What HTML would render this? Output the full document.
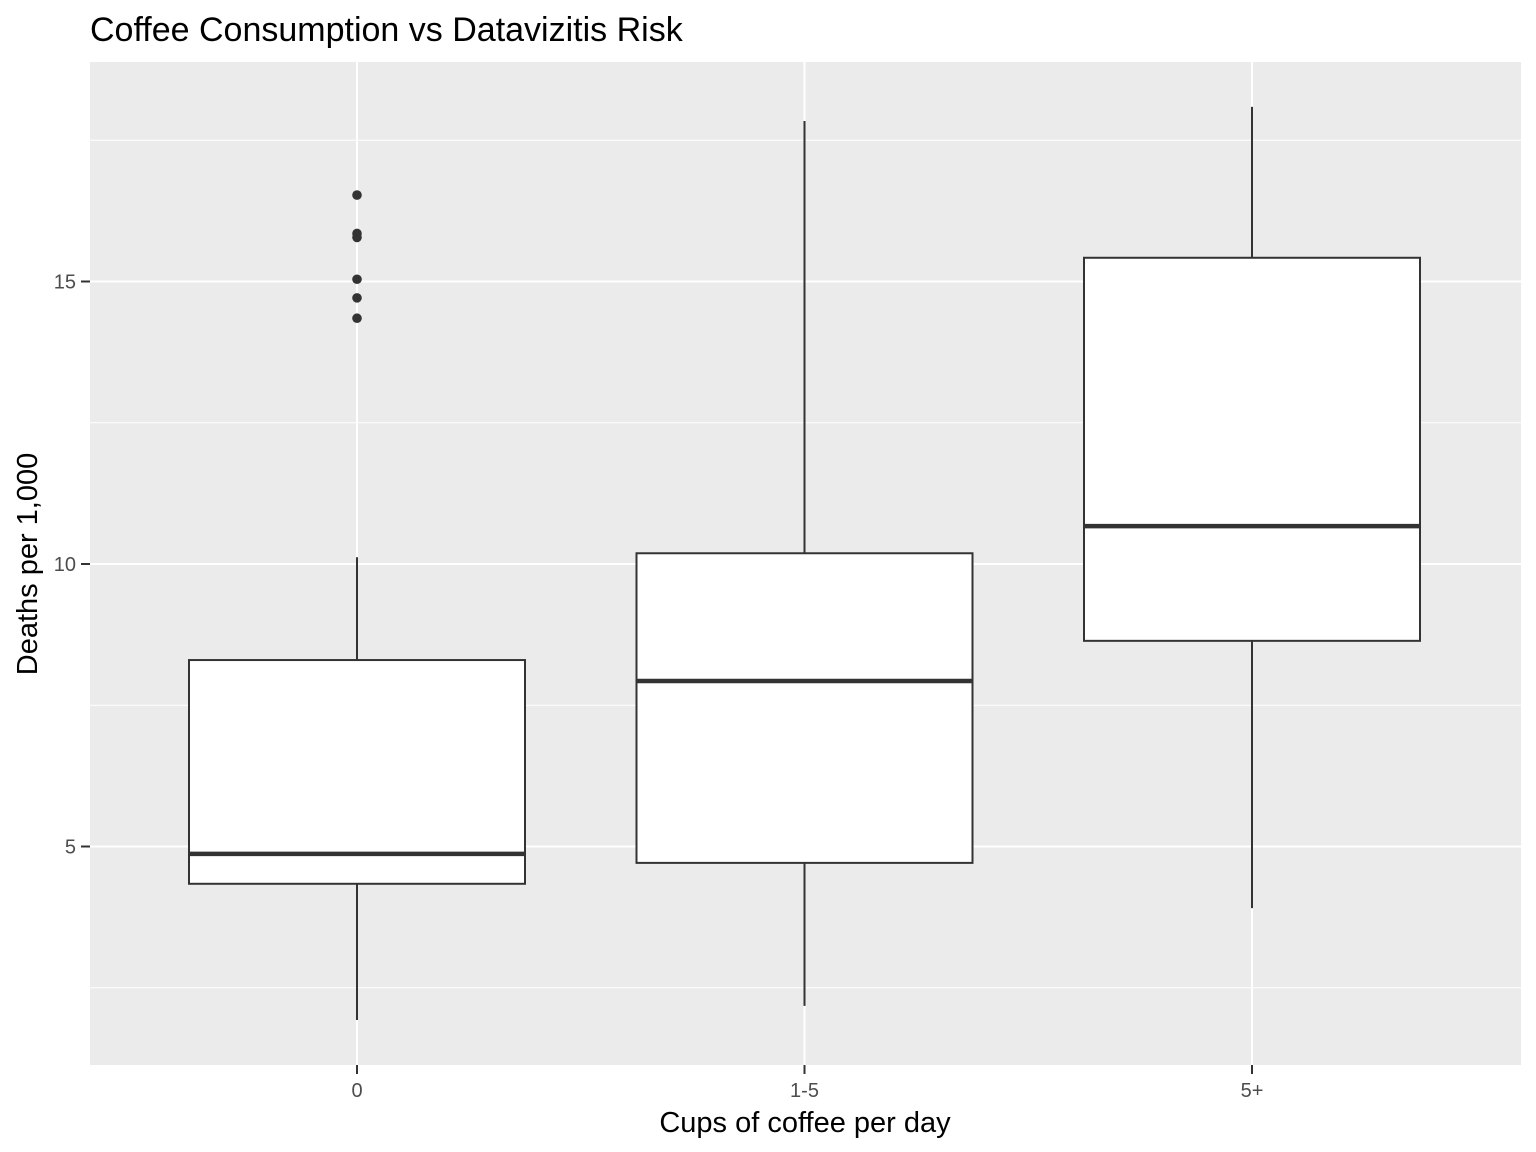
<!DOCTYPE html>
<html><head><meta charset="utf-8"><style>
body{margin:0;background:#fff;}
svg{display:block;font-family:"Liberation Sans",Arial,sans-serif;}
</style></head><body>
<svg id="chart" width="1536" height="1152">
<text x="90" y="41" font-size="34" fill="#000">Coffee Consumption vs Datavizitis Risk</text>
<rect x="90" y="62" width="1431" height="1003" fill="#ebebeb"/>
<g id="grid"></g>
<g id="marks"></g>
<g id="axes"></g>
<text x="805" y="1132" font-size="29" text-anchor="middle" fill="#000">Cups of coffee per day</text>
<text transform="translate(37,564) rotate(-90)" font-size="29" text-anchor="middle" fill="#000">Deaths per 1,000</text>
</svg>
<script>
const categories = ["0", "1-5", "5+"];
const whiskerLow = [1.93, 2.18, 3.91];
const q1 = [4.34, 4.71, 8.64];
const median = [4.87, 7.93, 10.67];
const q3 = [8.30, 10.19, 15.42];
const whiskerHigh = [10.12, 17.84, 18.09];
const outliers0 = [16.53, 15.85, 15.78, 15.04, 14.71, 14.35];
const yTicks = [5, 10, 15];
const yMinor = [2.5, 7.5, 12.5, 17.5];

const NS = "http://www.w3.org/2000/svg";
const yScale = v => 564 - (v - 10) * 56.5;
const xScale = i => 357 + i * 447.5;
const halfW = 168;
function mk(tag, attrs, parent) {
  const e = document.createElementNS(NS, tag);
  for (const k in attrs) e.setAttribute(k, attrs[k]);
  parent.appendChild(e);
  return e;
}
const grid = document.getElementById("grid"), marks = document.getElementById("marks"), axes = document.getElementById("axes");
yMinor.forEach(v => {
  const l = mk("line", {x1: 90, x2: 1521, y1: yScale(v), y2: yScale(v), stroke: "#fff", "stroke-width": 1}, grid);
  
  
});
yTicks.forEach(v => {
  const l = mk("line", {x1: 90, x2: 1521, y1: yScale(v), y2: yScale(v), stroke: "#fff", "stroke-width": 2}, grid);
  
  
  const t = mk("line", {x1: 81, x2: 90, y1: yScale(v), y2: yScale(v), stroke: "#333", "stroke-width": 2}, axes);
  
  
  const tx = mk("text", {x: 76, y: yScale(v) + 7, "font-size": 20, "text-anchor": "end", fill: "#4d4d4d"}, axes);
  tx.textContent = v;
  
  
});
categories.forEach((c, i) => {
  const x = xScale(i);
  const g = mk("line", {x1: x, x2: x, y1: 62, y2: 1065, stroke: "#fff", "stroke-width": 2}, grid);
  
  
  const t = mk("line", {x1: x, x2: x, y1: 1065, y2: 1074, stroke: "#333", "stroke-width": 2}, axes);
  
  
  const tx = mk("text", {x: x, y: 1097, "font-size": 20, "text-anchor": "middle", fill: "#4d4d4d"}, axes);
  tx.textContent = c;
  
  
  const w1 = mk("line", {x1: x, x2: x, y1: yScale(q3[i]), y2: yScale(whiskerHigh[i]), stroke: "#333", "stroke-width": 2}, marks);
  
  
  const w2 = mk("line", {x1: x, x2: x, y1: yScale(q1[i]), y2: yScale(whiskerLow[i]), stroke: "#333", "stroke-width": 2}, marks);
  
  
  const b = mk("rect", {x: x - halfW, y: yScale(q3[i]), width: 2 * halfW, height: yScale(q1[i]) - yScale(q3[i]), fill: "#fff", stroke: "#333", "stroke-width": 2}, marks);
  
  
  const m = mk("line", {x1: x - halfW, x2: x + halfW, y1: yScale(median[i]), y2: yScale(median[i]), stroke: "#333", "stroke-width": 4.5}, marks);
  
  
});
outliers0.forEach(v => {
  const p = mk("circle", {cx: xScale(0), cy: yScale(v), r: 4.8, fill: "#333"}, marks);
  
  
});
</script>
</body></html>
